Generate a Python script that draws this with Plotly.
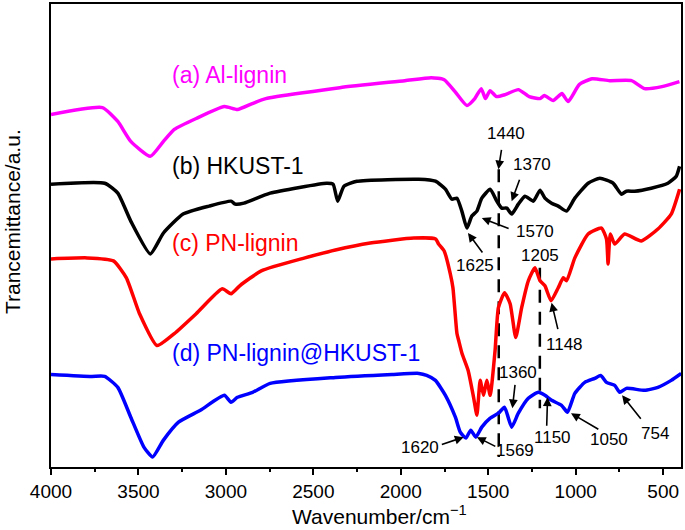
import plotly.graph_objects as go

# ---- data (wavenumber in cm^-1, transmittance in arbitrary units) ----
wn_a = [4000, 3706, 3618, 3544, 3432, 3357, 3295, 3170, 3009, 2934, 2849, 2772, 2349, 1977, 1826, 1752,
        1690, 1622, 1577, 1540, 1516, 1490, 1453, 1403, 1328, 1266, 1204, 1179, 1129, 1079, 1043, 980,
        906, 806, 681, 606, 507, 407]
t_a = [354, 361, 347, 327, 312, 327, 339, 350, 362, 359, 365, 370, 381, 388, 391, 389,
       377, 363, 370, 380, 370, 378, 372, 374, 379, 372, 370, 373, 368, 375, 367, 384,
       390, 388, 388, 380, 382, 387]

wn_b = [4000, 3693, 3618, 3544, 3432, 3357, 3245, 3096, 2971, 2946, 2897, 2747, 2424, 2387, 2361, 2325,
        2251, 1897, 1802, 1745, 1708, 1679, 1651, 1622, 1594, 1565, 1537, 1489, 1451, 1423, 1394, 1366,
        1328, 1290, 1242, 1204, 1176, 1138, 1100, 1052, 1005, 929, 862, 786, 739, 710, 663, 568, 473,
        425, 406]
t_b = [284, 285, 275, 247, 214, 235, 254, 262, 267, 264, 265, 275, 285, 284, 267, 282,
       287, 289, 287, 279, 269, 270, 257, 240, 252, 257, 270, 279, 267, 260, 260, 254,
       264, 272, 267, 278, 270, 265, 262, 257, 270, 285, 290, 285, 274, 277, 277, 280, 285,
       292, 302]

wn_c = [4000, 3793, 3643, 3569, 3494, 3394, 3295, 3170, 3021, 2971, 2921, 2798, 2548, 2374, 2175, 1926,
        1801, 1784, 1752, 1717, 1702, 1679, 1669, 1650, 1615, 1584, 1565, 1546, 1527, 1508, 1489, 1461,
        1442, 1407, 1375, 1343, 1309, 1271, 1233, 1204, 1176, 1141, 1100, 1071, 1052, 1005, 929, 853,
        824, 815, 802, 777, 720, 625, 530, 454, 406]
t_c = [209, 210, 207, 190, 154, 122, 134, 154, 179, 174, 182, 197, 210, 218, 225, 230,
       229, 224, 217, 194, 180, 134, 127, 114, 97, 70, 52, 87, 72, 87, 72, 117,
       160, 175, 164, 130, 160, 187, 200, 187, 182, 167, 180, 190, 187, 210, 234, 240,
       229, 204, 234, 224, 234, 227, 239, 254, 279]

wn_d = [4000, 3768, 3693, 3618, 3544, 3469, 3419, 3357, 3271, 3146, 3009, 2971, 2934, 2847, 2747, 2374,
        2050, 1897, 1852, 1802, 1745, 1688, 1660, 1628, 1600, 1571, 1537, 1489, 1442, 1407, 1366, 1328,
        1271, 1214, 1176, 1138, 1081, 1047, 1005, 948, 891, 857, 824, 777, 748, 710, 606, 530, 454, 397]
t_d = [93, 91, 91, 80, 50, 20, 10, 27, 45, 57, 72, 65, 70, 75, 84, 90,
       93, 94, 92, 87, 72, 50, 35, 29, 37, 30, 40, 49, 54, 60, 40, 54,
       69, 75, 72, 67, 62, 55, 74, 85, 89, 92, 85, 82, 75, 79, 77, 80, 87, 94]

series_names = ["(a) Al-lignin", "(b) HKUST-1", "(c) PN-lignin", "(d) PN-lignin@HKUST-1"]
series_colors = ["#ff00ff", "#000000", "#ff0000", "#0000ff"]

# peak labels: text, label position, arrow tail, arrow head
peak_text = ["1440", "1370", "1570", "1625", "1205", "1148", "1360", "1620", "1569", "1150", "1050", "754"]
peak_label_x = [1396, 1248, 1231, 1573, 1202, 1066, 1328, 1892, 1345, 1134, 809, 547]
peak_label_y = [335, 304, 237, 202, 212, 123, 95, 20, 17, 30, 28, 34]
arrow_tail_x = [1423, 1318, 1375, 1527, None, 1100, 1346, 1774, 1451, 1166, 862, 621]
arrow_tail_y = [320, 290, 239, 214, None, 137, 84, 22, 20, 40, 37, 47]
arrow_head_x = [1442, 1366, 1537, 1616, None, 1138, 1362, 1641, 1565, 1161, 1027, 735]
arrow_head_y = [299, 267, 250, 235, None, 165, 59, 30, 30, 70, 54, 72]

dash_wn = [1440, 1205]
dash_top = [299, 200]
dash_bottom = [10, 59]

FONT = "Liberation Sans, Arial, Helvetica, sans-serif"

fig = go.Figure()

for w, top, bot in zip(dash_wn, dash_top, dash_bottom):
    fig.add_trace(go.Scatter(x=[w, w], y=[top, bot], mode="lines",
                             line=dict(color="black", width=2.5, dash="13px,9px"),
                             hoverinfo="skip"))

for xs, ys, name, col in zip([wn_a, wn_b, wn_c, wn_d], [t_a, t_b, t_c, t_d], series_names, series_colors):
    fig.add_trace(go.Scatter(x=xs, y=ys, mode="lines", name=name,
                             line=dict(color=col, width=3.5, shape="spline", smoothing=0.5)))

label_y = [394, 302, 225, 114]
for name, col, ly in zip(series_names, series_colors, label_y):
    fig.add_annotation(x=3322, y=ly, xref="x", yref="y", text=name, showarrow=False,
                       xanchor="left", yanchor="middle",
                       font=dict(family=FONT, size=23, color=col))

for i, txt in enumerate(peak_text):
    fig.add_annotation(x=peak_label_x[i], y=peak_label_y[i], xref="x", yref="y", text=txt,
                       showarrow=False, xanchor="center", yanchor="middle",
                       font=dict(family=FONT, size=17, color="black"))
    if arrow_tail_x[i] is not None:
        fig.add_annotation(x=arrow_head_x[i], y=arrow_head_y[i], xref="x", yref="y",
                           ax=arrow_tail_x[i], ay=arrow_tail_y[i], axref="x", ayref="y",
                           text="", showarrow=True, arrowhead=2, arrowsize=1.1,
                           arrowwidth=1.6, arrowcolor="black", standoff=0, startstandoff=0)

fig.add_annotation(x=0.522, y=-0.104, xref="paper", yref="paper",
                   text="Wavenumber/cm<sup>\u22121</sup>", showarrow=False,
                   xanchor="center", yanchor="middle",
                   font=dict(family=FONT, size=21, color="black"))
fig.add_annotation(x=-0.062, y=0.531, xref="paper", yref="paper",
                   text="Trancemittance/a.u.", showarrow=False, textangle=-90,
                   xanchor="center", yanchor="middle",
                   font=dict(family=FONT, size=21, color="black"))

fig.update_layout(
    width=685, height=530,
    margin=dict(l=51, r=2, t=2, b=63),
    paper_bgcolor="white", plot_bgcolor="white",
    showlegend=False,
    xaxis=dict(range=[4000, 398], tick0=0, dtick=500, ticks="outside", ticklen=6, tickwidth=2,
               tickcolor="black", showline=True, linewidth=2, linecolor="black", mirror=True,
               showgrid=False, zeroline=False,
               tickfont=dict(family=FONT, size=19, color="black"),
               minor=dict(ticks="outside", ticklen=3, tickwidth=2, tickcolor="black",
                          tick0=0, dtick=250, showgrid=False)),
    yaxis=dict(range=[0, 465], showticklabels=False, ticks="", showline=True, linewidth=2,
               linecolor="black", mirror=True, showgrid=False, zeroline=False),
)

fig.write_html("out.html", config={"displayModeBar": False},
               post_script="document.body.style.margin='0';document.body.style.overflow='hidden';")
